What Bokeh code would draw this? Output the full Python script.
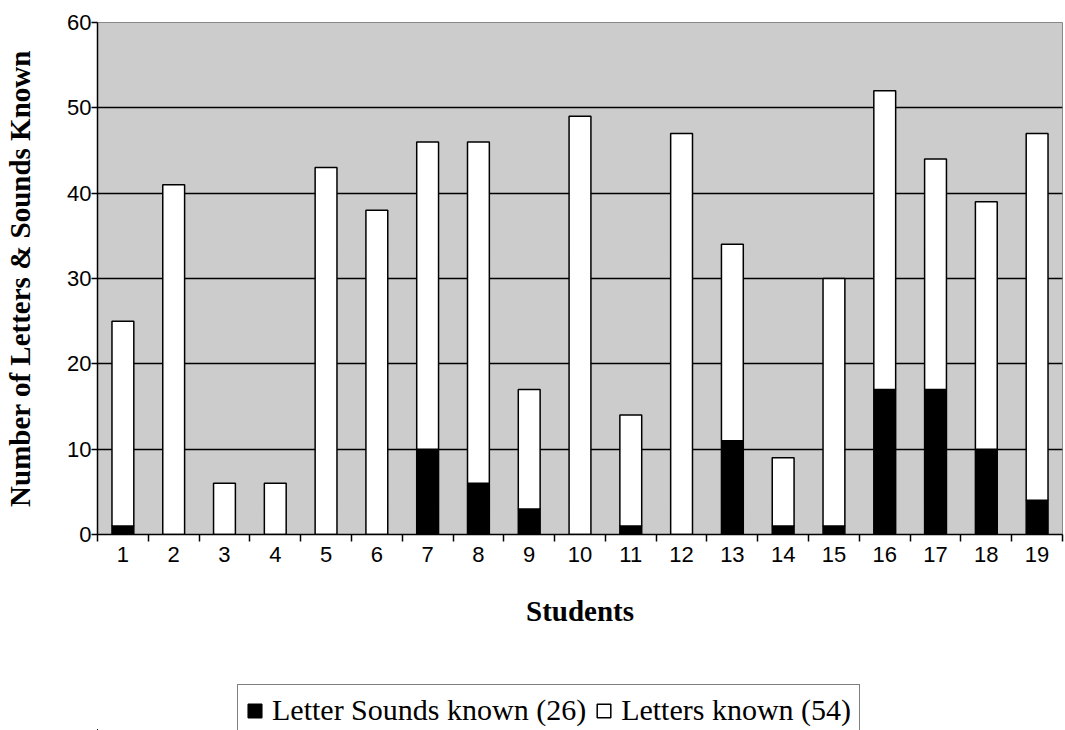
from bokeh.plotting import figure
from bokeh.models import FixedTicker, Legend, LegendItem, ColumnDataSource, Range1d
from bokeh.layouts import column
from bokeh.embed import file_html
from bokeh.resources import INLINE

students = list(range(1, 20))
sounds_known = [1, 0, 0, 0, 0, 0, 10, 6, 3, 0, 1, 0, 11, 1, 1, 17, 17, 10, 4]
totals = [25, 41, 6, 6, 43, 38, 46, 46, 17, 49, 14, 47, 34, 9, 30, 52, 44, 39, 47]
letters_known = [t - s for t, s in zip(totals, sounds_known)]
y_ticks = [0, 10, 20, 30, 40, 50, 60]
series_names = ["Letter Sounds known (26)", "Letters known (54)"]
series_colors = ["black", "white"]

src = ColumnDataSource(dict(x=students, sounds=sounds_known, letters=letters_known))

p = figure(frame_width=965, frame_height=512, output_backend="svg", toolbar_location=None,
           x_range=(0.5, 19.5), y_range=(0, 60),
           min_border_left=97, min_border_right=3, min_border_top=22, min_border_bottom=148)
p.background_fill_color = "#cccccc"
p.border_fill_color = "white"
p.outline_line_color = "#888888"
p.outline_line_width = 1

r = p.vbar_stack(["sounds", "letters"], x="x", width=0.43, source=src,
                 fill_color=series_colors, line_color="black", line_width=1.5)

p.xgrid.visible = False
p.ygrid.grid_line_color = "black"
p.ygrid.grid_line_width = 1.3
p.ygrid.ticker = FixedTicker(ticks=y_ticks)

p.yaxis.ticker = FixedTicker(ticks=y_ticks)
p.yaxis.major_tick_out = 6
p.yaxis.major_tick_in = 0
p.yaxis.major_label_standoff = 0
p.yaxis.major_label_text_font = "Liberation Sans"
p.yaxis.major_label_text_font_size = "22px"
p.yaxis.major_label_text_color = "black"
p.yaxis.axis_line_color = "black"
p.yaxis.axis_line_width = 1.5
p.yaxis.major_tick_line_width = 1.5
p.yaxis.axis_label = "Number of Letters & Sounds Known"
p.yaxis.axis_label_text_font = "Liberation Serif"
p.yaxis.axis_label_text_font_style = "bold"
p.yaxis.axis_label_text_font_size = "29px"
p.yaxis.axis_label_text_color = "black"
p.yaxis.axis_label_standoff = 28

p.xaxis.ticker = FixedTicker(ticks=students, minor_ticks=[s + 0.5 for s in range(0, 20)])
p.xaxis.major_tick_out = 0
p.xaxis.major_tick_in = 0
p.xaxis.minor_tick_out = 7
p.xaxis.minor_tick_in = 0
p.xaxis.minor_tick_line_color = "black"
p.xaxis.minor_tick_line_width = 1.5
p.xaxis.major_label_standoff = 5
p.xaxis.major_label_text_font = "Liberation Sans"
p.xaxis.major_label_text_font_size = "22px"
p.xaxis.major_label_text_color = "black"
p.xaxis.axis_line_color = "black"
p.xaxis.axis_line_width = 1.5
p.xaxis.axis_label = "Students"
p.xaxis.axis_label_text_font = "Liberation Serif"
p.xaxis.axis_label_text_font_style = "bold"
p.xaxis.axis_label_text_font_size = "29px"
p.xaxis.axis_label_text_color = "black"
p.xaxis.axis_label_standoff = 30

# Legend strip below the chart (its bars lie far outside its ranges; only the legend shows)
p2 = figure(width=1065, height=48, output_backend="svg", toolbar_location=None,
            x_range=Range1d(1000, 1010), y_range=Range1d(1000, 1010),
            x_axis_location=None, y_axis_location=None,
            min_border_left=97, min_border_right=3, min_border_top=0, min_border_bottom=0)
p2.grid.visible = False
p2.outline_line_color = None
p2.background_fill_color = "white"
p2.border_fill_color = "white"
r2 = p2.vbar_stack(["sounds", "letters"], x="x", width=0.43, source=src,
                   fill_color=series_colors, line_color="black", line_width=1.5)

legend = Legend(items=[LegendItem(label=series_names[0], renderers=[r2[0]]),
                       LegendItem(label=series_names[1], renderers=[r2[1]])],
                orientation="horizontal", location=(140, -6))
legend.label_text_font = "Liberation Serif"
legend.label_text_font_size = "30px"
legend.label_text_color = "black"
legend.border_line_color = "black"
legend.border_line_width = 1.5
legend.background_fill_alpha = 1
legend.glyph_width = 17
legend.glyph_height = 17
legend.label_standoff = 9
legend.spacing = 9
legend.padding = 8
legend.margin = 0
p2.add_layout(legend, "center")

open("out.html", "w").write(file_html(column(p, p2, spacing=0), INLINE))
